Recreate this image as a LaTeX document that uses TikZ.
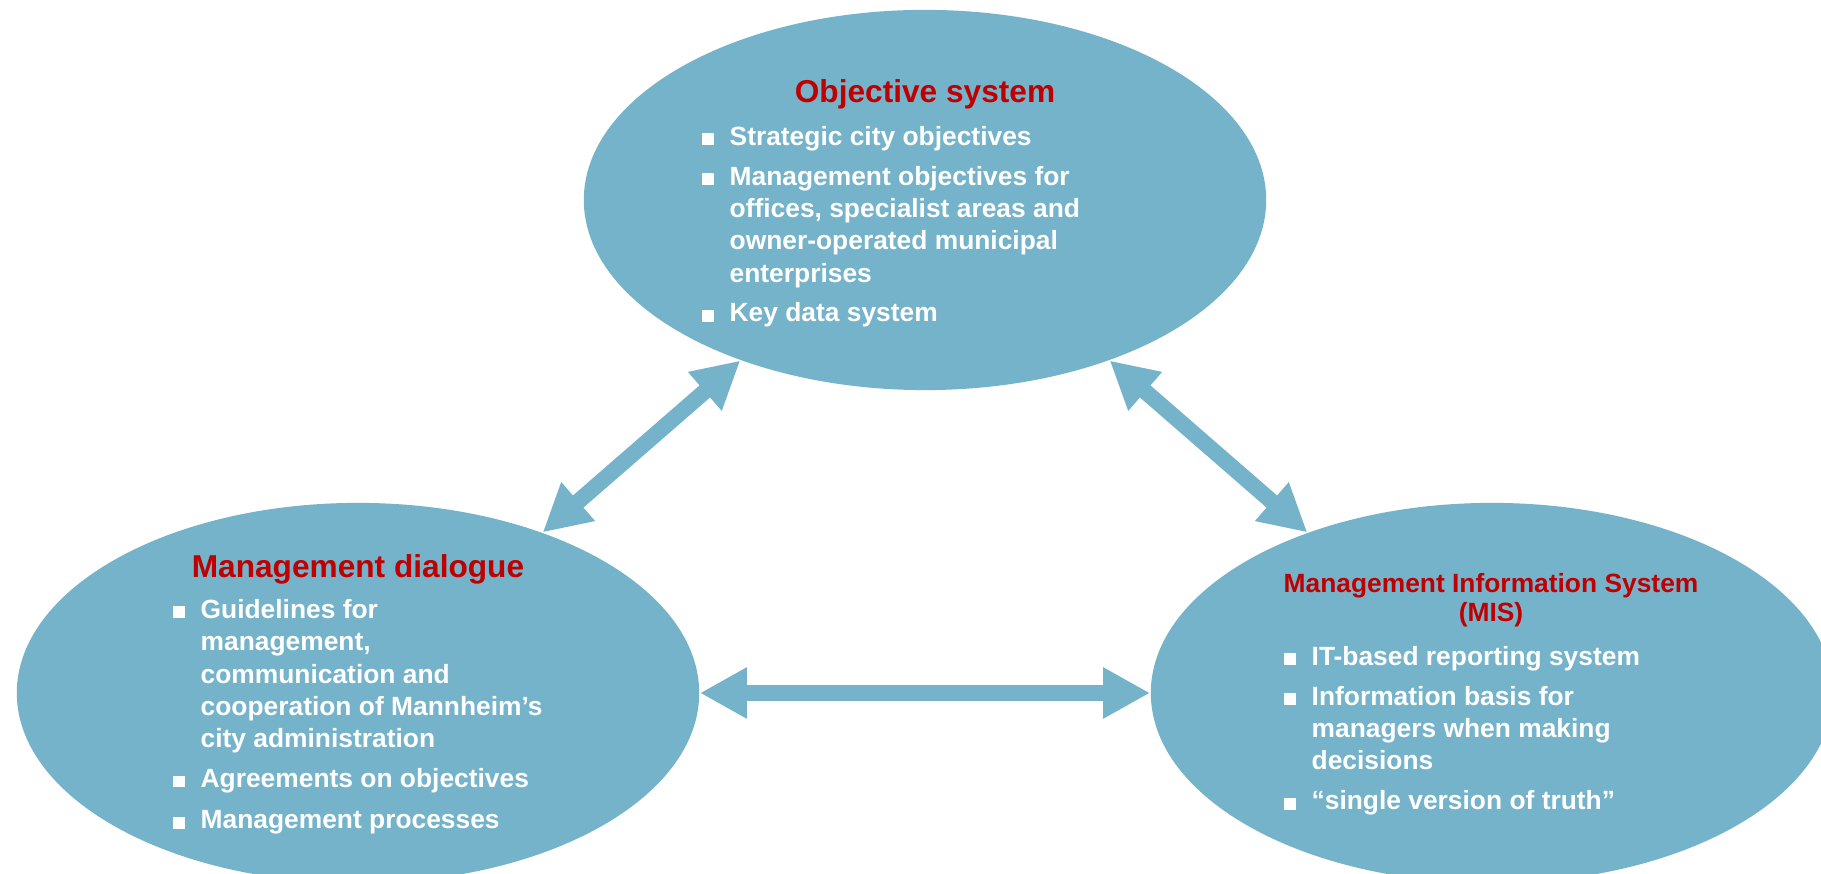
\documentclass[tikz,border=0pt]{standalone}
\usepackage{fontspec}
\setmainfont{Liberation Sans}
\usetikzlibrary{arrows.meta, shapes.geometric}
\definecolor{bubbleblue}{RGB}{116, 179, 201}
\definecolor{titlered}{RGB}{192, 0, 0}
\newcommand{\bitem}[1]{\makebox[1.06em][l]{\rule{0.45em}{0.45em}}\begin{tabular}[t]{@{}l@{}}#1\end{tabular}}

\begin{document}
\begin{tikzpicture}[x=0.01cm, y=-0.01cm,
    bubble/.style={ellipse, fill=bubbleblue, minimum width=6.82cm, minimum height=3.8cm, inner sep=0pt},
    heading/.style={text=titlered, font=\fontsize{9}{11}\selectfont\bfseries, inner sep=0pt, anchor=base},
    points/.style={text=white, font=\fontsize{7.5}{9.2}\selectfont\bfseries, align=left, inner sep=0pt, anchor=north west},
    link/.style={bubbleblue, line width=0.16cm, {Triangle[length=0.47cm, width=0.48cm]}-{Triangle[length=0.47cm, width=0.48cm]}}]
    \clip (0,0) rectangle (1821,874);
    % the three bubbles
    \node[bubble] (obj) at (925, 200) {};
    \node[bubble] (dlg) at (358, 693) {};
    \node[bubble] (mis) at (1492, 693) {};
    \draw[link] (dlg) -- (obj);
    \draw[link] (obj) -- (mis);
    \draw[link] (dlg) -- (mis);
    % objective system
    \node[heading] (objT) at (925, 103) {Objective system};
    \node[points] (objL) at (701, 122) {\bitem{Strategic city objectives}\\[2.1pt]
        \bitem{Management objectives for\\offices, specialist areas and\\owner-operated municipal\\enterprises}\\[1.1pt]
        \bitem{Key data system}};
    % management dialogue
    \node[heading] (dlgT) at (358, 578) {Management dialogue};
    \node[points] (dlgL) at (172, 595) {\bitem{Guidelines for\\management,\\communication and\\cooperation of Mannheim’s\\city administration}\\[1.1pt]
        \bitem{Agreements on objectives}\\[2.6pt]
        \bitem{Management processes}};
    % MIS
    \node[heading, font=\fontsize{7.5}{8.5}\selectfont\bfseries, align=center] (misT) at (1491, 622) {Management Information System\\(MIS)};
    \node[points] (misL) at (1283, 642) {\bitem{IT-based reporting system}\\[2.1pt]
        \bitem{Information basis for\\managers when making\\decisions}\\[1.1pt]
        \bitem{“single version of truth”}};
\end{tikzpicture}
\end{document}
